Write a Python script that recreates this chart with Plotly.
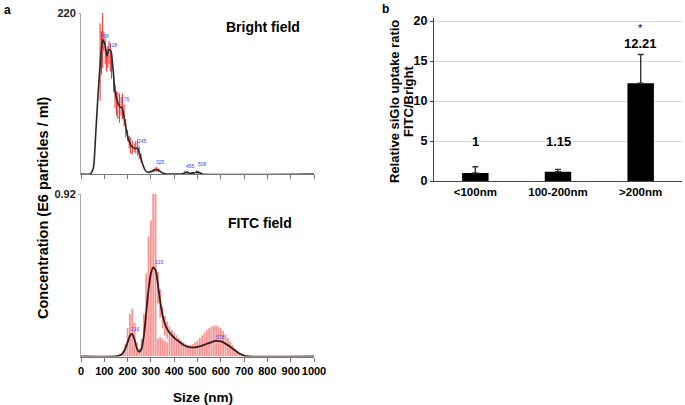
import plotly.graph_objects as go

W, H = 685, 405
FONT = "Arial, Liberation Sans, sans-serif"

# ---------------- Panel a: NTA size distributions ----------------
# Bright field: averaged concentration curve (E6 particles / ml)
bright_size = [0, 39, 53, 63, 74, 84, 93, 103, 111, 120, 129, 137, 146, 156, 167, 177, 186, 196,
               206, 217, 231, 243, 253, 263, 274, 286, 303, 320, 334, 349, 367, 430, 445, 455,
               465, 485, 498, 508, 520, 1000]
bright_conc = [0, 0, 8, 54, 113, 158, 183, 177, 161, 170, 168, 145, 113, 99, 92, 90, 76, 58,
               45, 38, 35, 35, 26, 15, 6, 2.3, 3.6, 6, 5, 1.5, 0, 0, 1.5, 2.5,
               1, 1.5, 2.5, 2, 0, 0]
# Bright field: red error bars (low / high)
bright_err_size = [82, 88, 93, 98, 104, 110, 115, 120, 126, 131, 140, 146, 152, 158, 165, 172,
                   178, 185, 192, 200, 207, 213, 220, 228, 235, 243, 250, 258, 310, 318, 325,
                   333, 445, 455, 497, 505]
bright_err_lo = [100, 136, 145, 168, 150, 140, 145, 150, 140, 130, 112, 90, 80, 75, 70, 80,
                 75, 65, 50, 45, 35, 28, 27, 30, 28, 25, 20, 15, 2, 3, 3,
                 2, 0, 0, 0, 0]
bright_err_hi = [206, 195, 222, 195, 185, 170, 175, 182, 178, 165, 142, 122, 113, 112, 110, 105,
                 110, 95, 75, 60, 52, 50, 45, 42, 45, 47, 38, 28, 7, 9, 10,
                 8, 4, 4, 5, 4]
bright_peaks = ["98", "128", "176", "245", "325", "455", "508"]
bright_peak_x = [107, 141, 193, 265, 342, 471, 522]
bright_peak_y = [189, 176, 102, 45, 16, 11, 14]

# FITC field: averaged concentration curve
fitc_size = [0, 150, 160, 170, 180, 190, 200, 210, 220, 230, 240, 250, 260, 270, 280, 290, 300,
             310, 320, 330, 340, 350, 360, 370, 380, 390, 400, 420, 440, 460, 480, 500, 520,
             540, 560, 580, 600, 620, 640, 660, 680, 700, 720, 1000]
fitc_conc = [0, 0, 0.003, 0.008, 0.02, 0.045, 0.08, 0.118, 0.128, 0.095, 0.045, 0.027, 0.045,
             0.12, 0.25, 0.38, 0.47, 0.505, 0.49, 0.41, 0.31, 0.235, 0.185, 0.155, 0.135, 0.12,
             0.105, 0.085, 0.065, 0.055, 0.052, 0.055, 0.062, 0.072, 0.082, 0.088, 0.085, 0.073,
             0.055, 0.035, 0.017, 0.005, 0, 0]
# FITC field: red bars (low / high)
fitc_bin = [160, 170, 180, 190, 200, 210, 220, 230, 240, 250, 260, 270, 280, 290, 300, 310, 320,
            330, 340, 350, 360, 370, 380, 390, 400, 410, 420, 430, 440, 450, 460, 470, 480, 490,
            500, 510, 520, 530, 540, 550, 560, 570, 580, 590, 600, 610, 620, 630, 640, 650, 660,
            670, 680, 690, 700]
fitc_lo = [0, 0, 0, 0, 0, 0, 0, 0, 0, 0, 0, 0, 0, 0, 0, 0, 0,
           0.30, 0.22, 0.16, 0.12, 0.10, 0, 0, 0, 0, 0, 0, 0, 0, 0, 0, 0, 0,
           0, 0, 0, 0, 0, 0, 0, 0, 0, 0, 0, 0, 0, 0, 0, 0, 0,
           0, 0, 0, 0]
fitc_hi = [0.005, 0.015, 0.03, 0.07, 0.16, 0.24, 0.27, 0.19, 0.08, 0.045, 0.10, 0.24, 0.47, 0.68,
           0.77, 0.92, 0.92, 0.48, 0.38, 0.28, 0.23, 0.20, 0.17, 0.15, 0.135, 0.12, 0.105, 0.09,
           0.08, 0.07, 0.065, 0.065, 0.07, 0.08, 0.09, 0.105, 0.12, 0.135, 0.15, 0.16, 0.17,
           0.175, 0.175, 0.17, 0.16, 0.145, 0.125, 0.105, 0.085, 0.065, 0.045, 0.03, 0.017,
           0.008, 0.003]
# FITC lower hump under the gap
fitc_low_bin = [330, 340, 350, 360, 370]
fitc_low_hi = [0.10, 0.11, 0.10, 0.09, 0.08]
fitc_peaks = ["216", "315", "578"]
fitc_peak_x = [236, 336, 600]
fitc_peak_y = [0.156, 0.533, 0.109]

size_ticks = [0, 100, 200, 300, 400, 500, 600, 700, 800, 900, 1000]

# ---------------- Panel b: uptake ratio ----------------
categories = ["<100nm", "100-200nm", ">200nm"]
ratio = [1, 1.15, 12.21]
ratio_err = [0.78, 0.30, 3.60]
ratio_label_y = [4.9, 4.9, 17.2]
ratio_ticks = [0, 5, 10, 15, 20]


def px(x):
    return x / W


def py(y):
    return 1 - y / H


fig = go.Figure()

FITC_RED = "rgba(242,105,105,0.72)"

# Bright field
fig.add_trace(go.Bar(x=bright_err_size,
                     y=[h - l for h, l in zip(bright_err_hi, bright_err_lo)],
                     base=bright_err_lo, width=4.2,
                     marker=dict(color="rgba(232,28,28,0.95)", line=dict(width=0)),
                     xaxis="x", yaxis="y", showlegend=False))
fig.add_trace(go.Scatter(x=bright_size, y=bright_conc, mode="lines",
                         line=dict(color="#2a2a2a", width=1.6, shape="spline", smoothing=0.5),
                         xaxis="x", yaxis="y", showlegend=False))

# FITC field
fig.add_trace(go.Bar(x=fitc_bin, y=[h - l for h, l in zip(fitc_hi, fitc_lo)], base=fitc_lo,
                     width=8,
                     marker=dict(color=FITC_RED, line=dict(width=0)),
                     xaxis="x2", yaxis="y2", showlegend=False))
fig.add_trace(go.Bar(x=fitc_low_bin, y=fitc_low_hi, width=8,
                     marker=dict(color=FITC_RED, line=dict(width=0)),
                     xaxis="x2", yaxis="y2", showlegend=False))
fig.add_trace(go.Scatter(x=fitc_size, y=fitc_conc, mode="lines",
                         line=dict(color="#3a1a1a", width=1.8, shape="spline", smoothing=0.5),
                         xaxis="x2", yaxis="y2", showlegend=False))

# Bar chart
fig.add_trace(go.Bar(x=categories, y=ratio, width=0.32,
                     marker=dict(color="black", line=dict(width=0)),
                     error_y=dict(type="data", symmetric=False, array=ratio_err,
                                  arrayminus=[0] * len(ratio_err), color="#333333",
                                  thickness=1.4, width=3),
                     xaxis="x3", yaxis="y3", showlegend=False))

fig.update_layout(barmode="overlay")

grey_axis = dict(showgrid=False, zeroline=False, showline=True, automargin=False)

fig.update_layout(
    width=W, height=H, margin=dict(l=0, r=0, t=0, b=0, autoexpand=False),
    paper_bgcolor="white", plot_bgcolor="white",
    font=dict(family=FONT, color="black"),
    xaxis=dict(domain=[px(81), px(314)], range=[0, 1000], anchor="y", linecolor="#777",
               tickvals=size_ticks, ticks="outside", ticklen=4, tickcolor="#777",
               showticklabels=False, **grey_axis),
    yaxis=dict(domain=[py(174), py(13)], range=[0, 220], anchor="x", linecolor="#aaa",
               tickvals=[220], ticktext=["220"], ticks="outside", ticklen=2, tickcolor="#aaa",
               tickfont=dict(size=11, weight="bold", color="#222"), **grey_axis),
    xaxis2=dict(domain=[px(81), px(314)], range=[0, 1000], anchor="y2", linecolor="#777",
                tickvals=size_ticks, ticks="outside", ticklen=4, tickcolor="#777",
                tickangle=0,
                tickfont=dict(size=11, weight="bold", color="black"), **grey_axis),
    yaxis2=dict(domain=[py(356.5), py(194)], range=[0, 0.92], anchor="x2", linecolor="#aaa",
                tickvals=[0.92], ticktext=["0.92"], ticks="outside", ticklen=2, tickcolor="#aaa",
                tickfont=dict(size=11, weight="bold", color="#222"), **grey_axis),
    xaxis3=dict(domain=[px(434), px(682)], range=[-0.5, 2.5], anchor="y3", showline=True,
                linecolor="#444", showgrid=False, zeroline=False, ticks="", tickangle=0,
                automargin=False,
                tickfont=dict(size=11.5, weight="bold", color="black")),
    yaxis3=dict(domain=[py(181), py(17.8)], range=[0, 20.4], anchor="x3", showline=True,
                linecolor="#444", showgrid=True, gridcolor="#dcdcdc", zeroline=False,
                tickvals=ratio_ticks, ticks="outside", ticklen=3, tickcolor="#444",
                automargin=False,
                tickfont=dict(size=12.5, weight="bold", color="black")),
)

ann = []


def note(text, x, y, size, angle=0, **kw):
    ann.append(dict(text=text, x=px(x), y=py(y), xref="paper", yref="paper",
                    xanchor="center", yanchor="middle", showarrow=False, textangle=angle,
                    font=dict(size=size, **kw)))


# panel letters
note("<b>a</b>", 8, 10, 12)
note("<b>b</b>", 385, 9, 12)
# titles panel a
note("<b>Bright field</b>", 263, 27, 14)
note("<b>FITC field</b>", 260, 223, 14)
note("<b>Concentration (E6 particles / ml)</b>", 43, 208, 14.5, -90)
note("<b>Size (nm)</b>", 203, 397, 13.5)
# panel b axis title
note("<b>Relative siGlo uptake ratio</b>", 395, 102, 13, -90)
note("<b>FITC/Bright</b>", 409, 102, 13, -90)

# peak labels
for t, xv, yv in zip(bright_peaks, bright_peak_x, bright_peak_y):
    ann.append(dict(text=t, x=xv, y=yv, xref="x", yref="y", showarrow=False,
                    xanchor="center", yanchor="middle",
                    font=dict(size=5, color="#3344ff")))
for t, xv, yv in zip(fitc_peaks, fitc_peak_x, fitc_peak_y):
    ann.append(dict(text=t, x=xv, y=yv, xref="x2", yref="y2", showarrow=False,
                    xanchor="center", yanchor="middle",
                    font=dict(size=5, color="#3344ff")))
for c, v, yv in zip(categories, ratio, ratio_label_y):
    ann.append(dict(text="<b>%g</b>" % v, x=c, y=yv, xref="x3", yref="y3", showarrow=False,
                    xanchor="center", yanchor="middle", font=dict(size=13)))
ann.append(dict(text="*", x=categories[2], y=19.1, xref="x3", yref="y3", showarrow=False,
                xanchor="center", yanchor="middle", font=dict(size=11)))

fig.update_layout(annotations=ann)

fig.write_html("out.html", config={"displayModeBar": False},
               post_script="document.body.style.margin='0';document.body.style.overflow='hidden';")
